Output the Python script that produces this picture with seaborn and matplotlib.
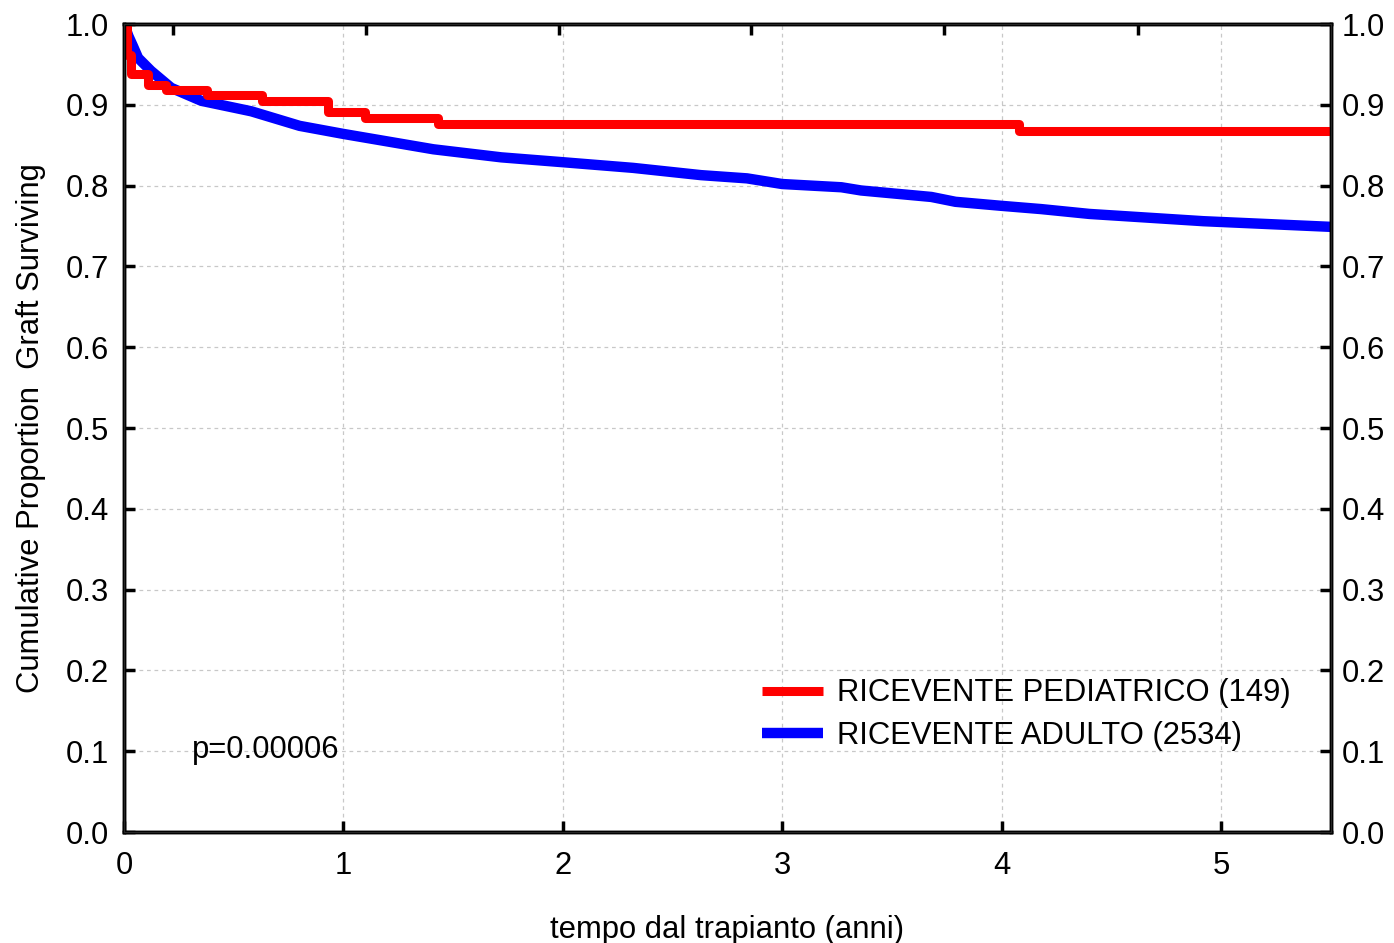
import numpy as np
import pandas as pd
import matplotlib
matplotlib.use("Agg")
import matplotlib.pyplot as plt
import seaborn as sns

# Kaplan-Meier curves
ped_time = [0, 0.014, 0.03, 0.11, 0.19, 0.38, 0.63, 0.93, 1.10, 1.43, 4.08, 5.5]
ped_surv = [1.0, 0.962, 0.938, 0.925, 0.918, 0.912, 0.905, 0.891, 0.884, 0.876, 0.868, 0.868]

adult_time = [0, 0.02, 0.04, 0.064, 0.123, 0.215, 0.352, 0.58, 0.80, 1.0, 1.41, 1.72, 2.0,
              2.32, 2.63, 2.84, 3.0, 3.27, 3.36, 3.68, 3.79, 4.0, 4.18, 4.4, 4.92, 5.5]
adult_surv = [1.0, 0.985, 0.973, 0.958, 0.942, 0.921, 0.905, 0.892, 0.874, 0.864, 0.845, 0.835, 0.829,
              0.822, 0.813, 0.809, 0.802, 0.798, 0.794, 0.786, 0.780, 0.775, 0.771, 0.765, 0.756, 0.749]

ped_label = "RICEVENTE PEDIATRICO (149)"
adult_label = "RICEVENTE ADULTO (2534)"
p_text = "p=0.00006"

x_ticks = [0, 1, 2, 3, 4, 5]
y_ticks = [0.0, 0.1, 0.2, 0.3, 0.4, 0.5, 0.6, 0.7, 0.8, 0.9, 1.0]
top_ticks = [0.224, 1.103, 1.982, 2.86, 3.74, 4.62]

sns.set_style("white")
plt.rcParams["font.family"] = ["Liberation Sans", "DejaVu Sans"]
plt.rcParams["text.color"] = "black"
plt.rcParams["axes.labelcolor"] = "black"

fig = plt.figure(figsize=(13.94, 9.43), dpi=100)
ax = fig.add_axes([0.089, 0.1177, 0.8655, 0.8568])

ped_df = pd.DataFrame({"tempo": ped_time, "surv": ped_surv})
adult_df = pd.DataFrame({"tempo": adult_time, "surv": adult_surv})

sns.lineplot(data=ped_df, x="tempo", y="surv", ax=ax, color="#ff0000",
             linewidth=6.5, drawstyle="steps-post", label=ped_label,
             solid_capstyle="butt", zorder=4)
sns.lineplot(data=adult_df, x="tempo", y="surv", ax=ax, color="#0000ff",
             linewidth=7.5, label=adult_label, solid_capstyle="butt", zorder=2)

fs = 22.3
ax.set_xlim(0, 5.5)
ax.set_ylim(0, 1.0)
ax.set_xticks(x_ticks)
ax.set_yticks(y_ticks)
ax.set_yticklabels([f"{v:.1f}" for v in y_ticks])
ax.grid(True, linestyle=(0, (3, 3)), color="#c8c8c8", linewidth=0.9)
ax.tick_params(direction="in", length=8, width=2.5, labelsize=fs, colors="black", pad=14)
ax.tick_params(axis="y", pad=11)
for s in ax.spines.values():
    s.set_linewidth(2.5)
    s.set_color("black")

ax.set_xlabel("tempo dal trapianto (anni)", fontsize=fs, labelpad=24)
ax.set_ylabel("Cumulative Proportion  Graft Surviving", fontsize=fs, labelpad=14)

axr = ax.twinx()
axr.set_ylim(0, 1.0)
axr.set_yticks(y_ticks)
axr.set_yticklabels([f"{v:.1f}" for v in y_ticks])
axr.tick_params(direction="in", length=8, width=2.5, labelsize=fs, colors="black", pad=8)
for s in axr.spines.values():
    s.set_linewidth(2.5)
    s.set_color("black")

axt = ax.twiny()
axt.set_xlim(0, 5.5)
axt.set_xticks(top_ticks)
axt.set_xticklabels([])
axt.tick_params(direction="in", length=8, width=2.5, colors="black")

ax.text(0.31, 0.101, p_text, fontsize=fs, va="center", ha="left")

leg = ax.legend(loc="upper left", bbox_to_anchor=(0.529, 0.19), frameon=False,
                fontsize=fs, handlelength=1.95, handletextpad=0.45,
                labelspacing=0.4, borderaxespad=0, borderpad=0)

fig.savefig("out.png", dpi=100)
